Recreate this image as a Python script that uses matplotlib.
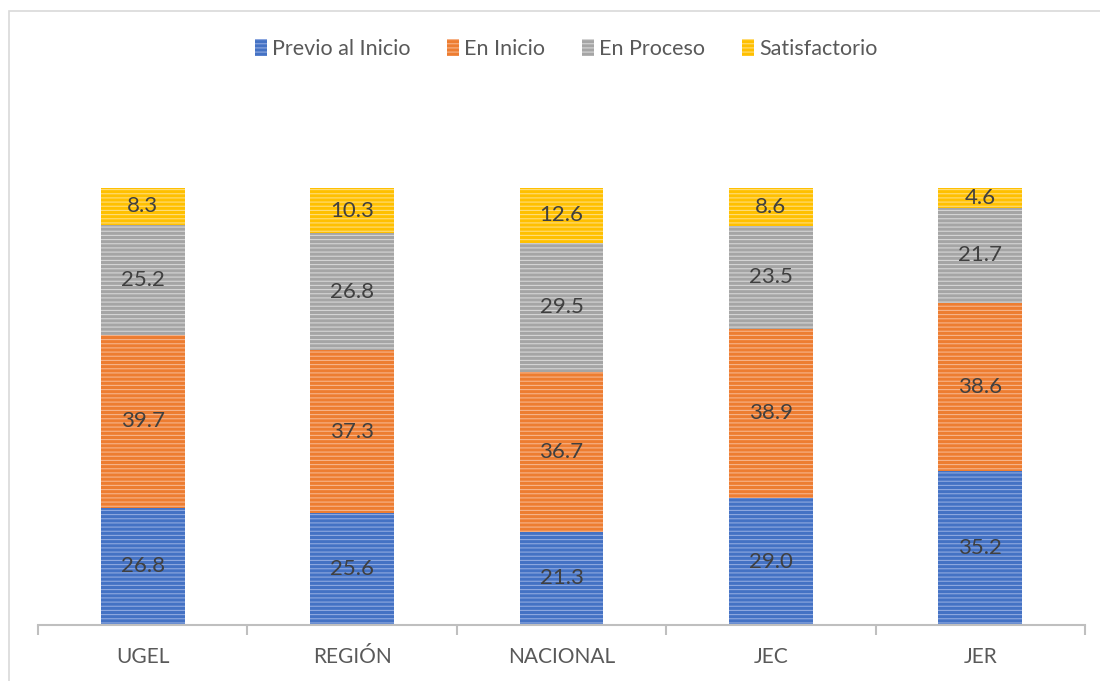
import matplotlib
matplotlib.use("Agg")
import matplotlib.pyplot as plt
import numpy as np

categories = ["UGEL", "REGIÓN", "NACIONAL", "JEC", "JER"]
series_names = ["Previo al Inicio", "En Inicio", "En Proceso", "Satisfactorio"]
previo = [26.8, 25.6, 21.3, 29.0, 35.2]
inicio = [39.7, 37.3, 36.7, 38.9, 38.6]
proceso = [25.2, 26.8, 29.5, 23.5, 21.7]
satisf = [8.3, 10.3, 12.6, 8.6, 4.6]

colors = ["#4472C4", "#ED7D31", "#A5A5A5", "#FFC000"]
hatch_colors = ["#8FA9E0", "#F7B48A", "#D6D6D6", "#FFDD7A"]

plt.rcParams["font.family"] = ["Lato", "DejaVu Sans"]
plt.rcParams["hatch.linewidth"] = 0.8

fig = plt.figure(figsize=(11, 6.81), dpi=100)
ax = fig.add_axes([38 / 1100, 56 / 681, 1047 / 1100, 524 / 681])

x = np.arange(len(categories))
bottom = np.zeros(len(categories))
for vals, name, c, hc in zip([previo, inicio, proceso, satisf], series_names, colors, hatch_colors):
    vals = np.array(vals)
    ax.bar(x, vals, width=0.4, bottom=bottom, color=c, edgecolor=hc,
           linewidth=0, hatch="----", label=name)
    for xi, b, v in zip(x, bottom, vals):
        ax.text(xi, b + v / 2, f"{v:.1f}", ha="center", va="center",
                fontsize=16, color="#404040")
    bottom += vals

ax.set_xlim(-0.5, len(categories) - 0.5)
ax.set_ylim(0, 120)
ax.set_yticks([])
for s in ["top", "right", "left"]:
    ax.spines[s].set_visible(False)
ax.spines["bottom"].set_color("#BFBFBF")
ax.spines["bottom"].set_linewidth(1.5)

ax.set_xticks(np.arange(-0.5, len(categories), 1.0))
ax.set_xticklabels([])
ax.tick_params(axis="x", length=7, width=1.5, color="#BFBFBF", direction="out")
ax.set_xticks(x, minor=True)
ax.set_xticklabels(categories, minor=True, fontsize=15, color="#595959")
ax.tick_params(axis="x", which="minor", length=0, pad=16)

leg = fig.legend(loc="center", bbox_to_anchor=(566 / 1100, 1 - 49 / 681), ncol=4,
                 frameon=False, fontsize=15.5, handlelength=0.55, handleheight=0.8,
                 handletextpad=0.25, columnspacing=1.7)
for t in leg.get_texts():
    t.set_color("#595959")

border = plt.Rectangle((9 / 1100, -0.1), 1.2, 1.1 - 11 / 681, transform=fig.transFigure,
                       fill=False, edgecolor="#D9D9D9", linewidth=1.2)
fig.patches.append(border)

fig.savefig("out.png", dpi=100)
